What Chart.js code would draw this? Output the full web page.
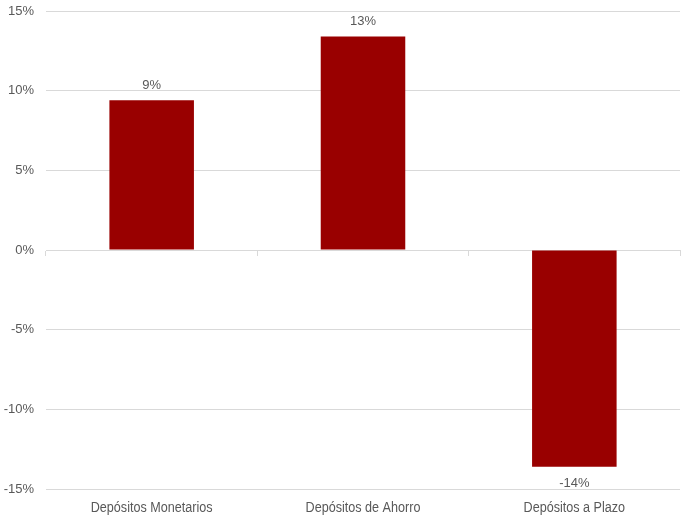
<!DOCTYPE html>
<html lang="es">
<head>
<meta charset="UTF-8">
<title>Depósitos</title>
<script src="https://cdn.jsdelivr.net/npm/chart.js"></script>
<style>
    body { margin: 0; background: #ffffff; }
    #wrap { width: 681px; height: 516px; }
</style>
</head>
<body>
<div id="wrap"><canvas id="chart"></canvas></div>
<script>
    const categories = ['Depósitos Monetarios', 'Depósitos de Ahorro', 'Depósitos a Plazo'];
    const variacion = [9.4, 13.4, -13.6];
    const yTicks = [-15, -10, -5, 0, 5, 10, 15];

    const gray = '#595959';
    const gridColor = '#d9d9d9';

    // etiquetas de valor encima / debajo de cada barra + nombres de categoria (algo estrechos)
    const barLabels = {
        id: 'barLabels',
        afterDatasetsDraw(chart) {
            const c = chart.ctx;
            const meta = chart.getDatasetMeta(0);
            c.save();
            c.font = '13px "Liberation Sans", Arial, sans-serif';
            c.fillStyle = gray;
            c.textAlign = 'center';
            c.textBaseline = 'middle';
            meta.data.forEach((bar, i) => {
                const v = variacion[i];
                const y = v >= 0 ? bar.y - 15 : bar.y + 17;
                c.fillText(Math.round(v) + '%', bar.x, y);
            });
            c.font = '14px "Liberation Sans", Arial, sans-serif';
            const xs = chart.scales.x;
            const ly = chart.chartArea.bottom + 19;
            categories.forEach((cat, i) => {
                c.save();
                c.translate(xs.getPixelForValue(i), ly);
                c.scale(0.9, 1);
                c.fillText(cat, 0, 0);
                c.restore();
            });
            c.restore();
        }
    };

    new Chart(document.getElementById('chart'), {
        type: 'bar',
        data: {
            labels: categories,
            datasets: [{
                data: variacion,
                backgroundColor: '#990000',
                borderWidth: 0,
                categoryPercentage: 0.8,
                barPercentage: 0.5
            }]
        },
        options: {
            responsive: true,
            maintainAspectRatio: false,
            animation: false,
            layout: { padding: { top: 11, right: 1, left: 0, bottom: 0 } },
            plugins: { legend: { display: false }, tooltip: { enabled: false } },
            scales: {
                x: {
                    grid: { display: false },
                    border: { display: false },
                    ticks: { display: false },
                    afterFit(axis) { axis.height = 27; }
                },
                x2: {
                    type: 'category',
                    labels: categories,
                    position: { y: 0 },
                    offset: true,
                    grid: { offset: true, drawOnChartArea: false, drawTicks: true, tickLength: 5, color: gridColor },
                    border: { display: true, color: gridColor },
                    ticks: { display: false }
                },
                y: {
                    min: -15,
                    max: 15,
                    afterBuildTicks(axis) { axis.ticks = yTicks.map(v => ({ value: v })); },
                    afterFit(axis) { axis.width = 46; axis.paddingTop = 0; axis.paddingBottom = 0; },
                    grid: { color: gridColor, drawTicks: false },
                    border: { display: false },
                    ticks: {
                        color: gray,
                        padding: 12,
                        font: { family: '"Liberation Sans", Arial', size: 13 },
                        callback: v => v + '%'
                    }
                }
            }
        },
        plugins: [barLabels]
    });
</script>
</body>
</html>
